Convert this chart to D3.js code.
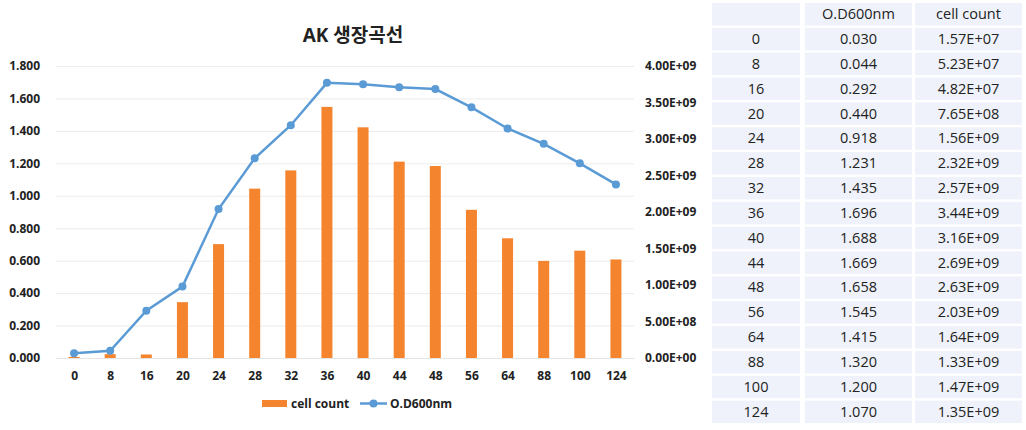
<!DOCTYPE html>
<html>
<head>
<meta charset="utf-8">
<script src="https://cdn.jsdelivr.net/npm/d3@7"></script>
<style>
  html, body { margin: 0; padding: 0; background: #fff; }
  svg { display: block; }
  text { font-family: "Open Sans", "Noto Sans CJK KR", sans-serif; }
</style>
</head>
<body>
<svg id="chart" width="1026" height="430"></svg>
<script>
// ---- data ----
const hours = ["0", "8", "16", "20", "24", "28", "32", "36", "40", "44", "48", "56", "64", "88", "100", "124"];
const odValues = [0.030, 0.044, 0.292, 0.440, 0.918, 1.231, 1.435, 1.696, 1.688, 1.669, 1.658, 1.545, 1.415, 1.320, 1.200, 1.070];
const cellCounts = [1.57e7, 5.23e7, 4.82e7, 7.65e8, 1.56e9, 2.32e9, 2.57e9, 3.44e9, 3.16e9, 2.69e9, 2.63e9, 2.03e9, 1.64e9, 1.33e9, 1.47e9, 1.35e9];
const leftTicks = [0, 0.2, 0.4, 0.6, 0.8, 1.0, 1.2, 1.4, 1.6, 1.8];
const rightTicks = [0, 5e8, 1e9, 1.5e9, 2e9, 2.5e9, 3e9, 3.5e9, 4e9];
const title = "AK 생장곡선";
const odName = "O.D600nm";
const cellName = "cell count";
const tableHeader = ["", odName, cellName];

// ---- style ----
const orange = "#F5842E";
const blue = "#5B9BD5";
const svg = d3.select("#chart");

const plotL = 56, plotR = 634, plotT = 66, plotB = 358;

const x = d3.scalePoint().domain(hours).range([plotL, plotR]).padding(0.5);
const yL = d3.scaleLinear().domain([0, 1.8]).range([plotB, plotT]);
const yR = d3.scaleLinear().domain([0, 4e9]).range([plotB, plotT]);

const sci = v => {
  const s = v.toExponential(2).toUpperCase();
  return s.replace(/E([+-])(\d)$/, "E$10$2");
};

// gridlines
const grid = svg.append("g").attr("transform", `translate(${plotL},0)`)
  .call(d3.axisLeft(yL).tickValues(leftTicks).tickSize(-(plotR - plotL)).tickFormat(""));
grid.select(".domain").remove();
grid.selectAll("line").attr("stroke", "#ececec").attr("stroke-width", 1);

// left axis
const ax = svg.append("g").attr("transform", `translate(43,0)`)
  .call(d3.axisLeft(yL).tickValues(leftTicks).tickSize(0).tickFormat(d3.format(".3f")));
ax.select(".domain").remove();
ax.selectAll("text").attr("font-size", 12).attr("font-weight", "bold").attr("fill", "#222").attr("dx", 0);

// right axis
const axR = svg.append("g").attr("transform", `translate(645,0)`)
  .call(d3.axisRight(yR).tickValues(rightTicks).tickSize(0).tickFormat(sci));
axR.select(".domain").remove();
axR.selectAll("text").attr("font-size", 12).attr("font-weight", "bold").attr("fill", "#222").attr("x", 0);

// x axis
const axX = svg.append("g").attr("transform", `translate(0,${plotB})`)
  .call(d3.axisBottom(x).tickSize(0));
axX.select(".domain").attr("stroke", "#e4e4e4");
axX.selectAll("text").attr("font-size", 12).attr("font-weight", "bold").attr("fill", "#222").attr("dy", "1.55em");

// bars
const bw = 11;
svg.append("g").selectAll("rect").data(hours).join("rect")
  .attr("x", (d) => x(d) - bw / 2)
  .attr("width", bw)
  .attr("y", (d, i) => yR(cellCounts[i]))
  .attr("height", (d, i) => plotB - yR(cellCounts[i]))
  .attr("fill", orange);

// line
const line = d3.line().x((d, i) => x(hours[i])).y(d => yL(d));
svg.append("path").datum(odValues)
  .attr("d", line).attr("fill", "none").attr("stroke", blue).attr("stroke-width", 2.5);
svg.append("g").selectAll("circle").data(odValues).join("circle")
  .attr("cx", (d, i) => x(hours[i])).attr("cy", d => yL(d)).attr("r", 4)
  .attr("fill", blue);

// title
svg.append("text").attr("x", 353).attr("y", 42).attr("text-anchor", "middle")
  .attr("font-size", 19).attr("font-weight", "bold").attr("fill", "#222")
  .text(title);

// legend
const lg = svg.append("g");
lg.append("rect").attr("x", 262).attr("y", 400).attr("width", 25).attr("height", 7).attr("fill", orange);
lg.append("text").attr("x", 291).attr("y", 408).attr("font-size", 12).attr("font-weight", "bold").attr("fill", "#222").text(cellName);
lg.append("line").attr("x1", 360).attr("x2", 387).attr("y1", 403.5).attr("y2", 403.5).attr("stroke", blue).attr("stroke-width", 2.5);
lg.append("circle").attr("cx", 373.5).attr("cy", 403.5).attr("r", 4).attr("fill", blue);
lg.append("text").attr("x", 390).attr("y", 408).attr("font-size", 12).attr("font-weight", "bold").attr("fill", "#222").text(odName);

// table
const colX = [712, 805, 915];
const colW = [88, 107, 107];
const rowTop = 3, rowStep = 24.85, rowH = 22.5;
const rows = [tableHeader].concat(hours.map((h, i) => [h, d3.format(".3f")(odValues[i]), sci(cellCounts[i])]));
const tg = svg.append("g");
rows.forEach((r, ri) => {
  r.forEach((c, ci) => {
    const y0 = rowTop + ri * rowStep;
    tg.append("rect").attr("x", colX[ci]).attr("y", y0).attr("width", colW[ci]).attr("height", rowH)
      .attr("fill", "#eff2fa");
    tg.append("text").attr("x", colX[ci] + colW[ci] / 2).attr("y", y0 + rowH / 2 + 1)
      .attr("dominant-baseline", "middle").attr("text-anchor", "middle")
      .attr("font-size", 14.5).attr("fill", "#222").text(c);
  });
});
</script>
</body>
</html>
